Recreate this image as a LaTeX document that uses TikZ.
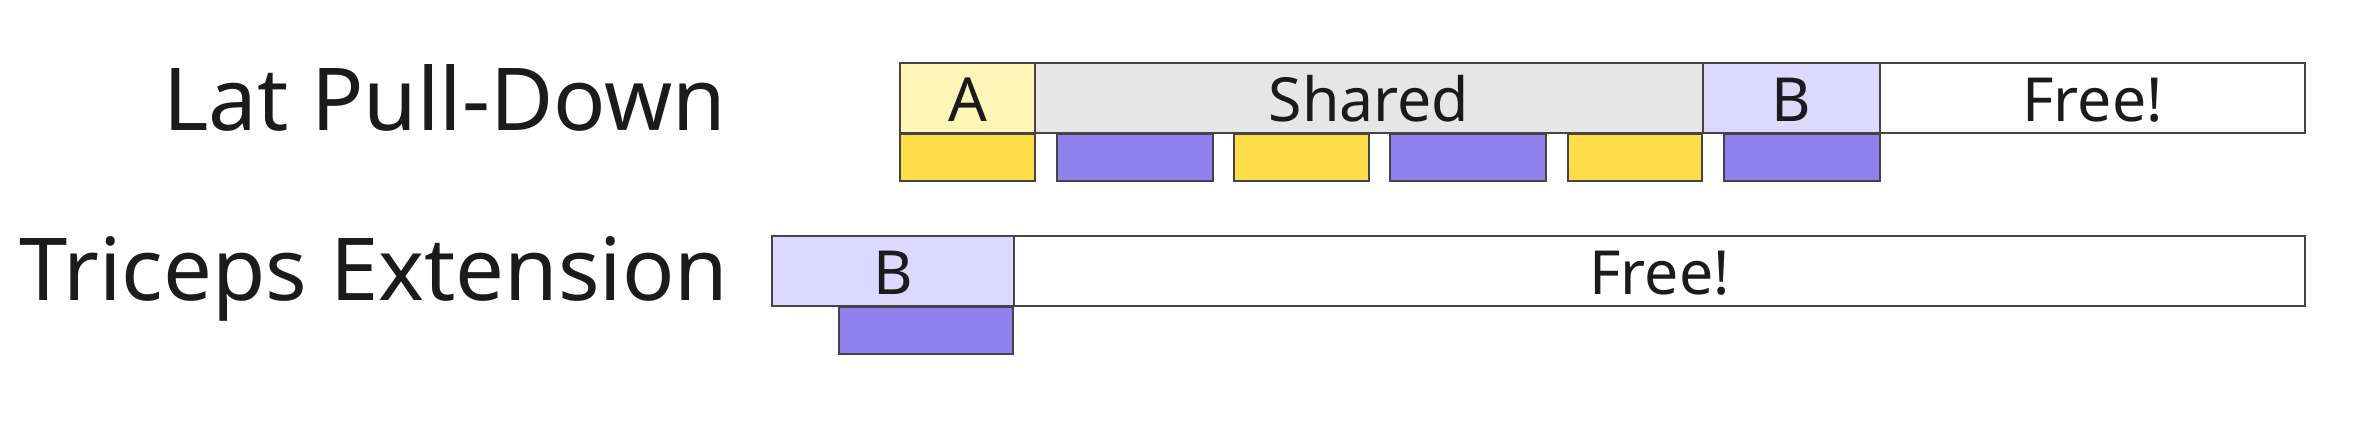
\documentclass[tikz,border=0pt]{standalone}
\usepackage{fontspec}
\setmainfont{Noto Sans}
\usetikzlibrary{positioning}

\definecolor{edge}{HTML}{444444}
\definecolor{ink}{HTML}{1B1B1B}
\definecolor{aslot}{HTML}{FFF6B8}
\definecolor{arep}{HTML}{FFDC4A}
\definecolor{shslot}{HTML}{E6E6E6}
\definecolor{bslot}{HTML}{DCD8FE}
\definecolor{brep}{HTML}{8F80EE}

\tikzset{
  slot/.style={draw=edge, line width=0.6pt, inner sep=0pt, outer sep=0pt,
    minimum height=0.70cm, text=ink, text height=0.47cm, text depth=0pt,
    font=\fontsize{17.3}{20}\selectfont},
  rep/.style={draw=edge, line width=0.6pt, inner sep=0pt, outer sep=0pt,
    minimum height=0.467cm},
  exname/.style={anchor=base east, inner sep=0pt, text=ink,
    font=\fontsize{24.7}{28}\selectfont}
}

\begin{document}
\begin{tikzpicture}
    \useasboundingbox (0,0) rectangle (23.57,-4.24);
    % exercise names
    \node[exname] (lat) at (7.27,-1.30) {Lat Pull-Down};
    \node[exname] (tri) at (7.29,-3.00) {Triceps Extension};
    % lat pull-down row
    \node[slot, fill=aslot, minimum width=1.35cm] (a) at (9.675,-0.977) {A};
    \node[slot, fill=shslot, minimum width=6.68cm, right=0pt of a] (shared) {Shared};
    \node[slot, fill=bslot, minimum width=1.77cm, right=0pt of shared] (b) {B};
    \node[slot, fill=white, minimum width=4.25cm, right=0pt of b] (free) {Free!};
    \foreach \c/\w/\col [count=\i] in {9.675/1.35/arep, 11.35/1.56/brep,
        13.015/1.35/arep, 14.68/1.56/brep, 16.35/1.34/arep, 18.02/1.56/brep}
        \node[rep, fill=\col, minimum width=\w cm] (r\i) at (\c,-1.577) {};
    % triceps extension row
    \node[slot, fill=bslot, minimum width=2.423cm] (tb) at (8.929,-2.707) {B};
    \node[slot, fill=white, minimum width=12.91cm, right=0pt of tb] (tfree) {Free!};
    \node[rep, fill=brep, minimum width=1.737cm] (tr1) at (9.262,-3.305) {};
\end{tikzpicture}
\end{document}
